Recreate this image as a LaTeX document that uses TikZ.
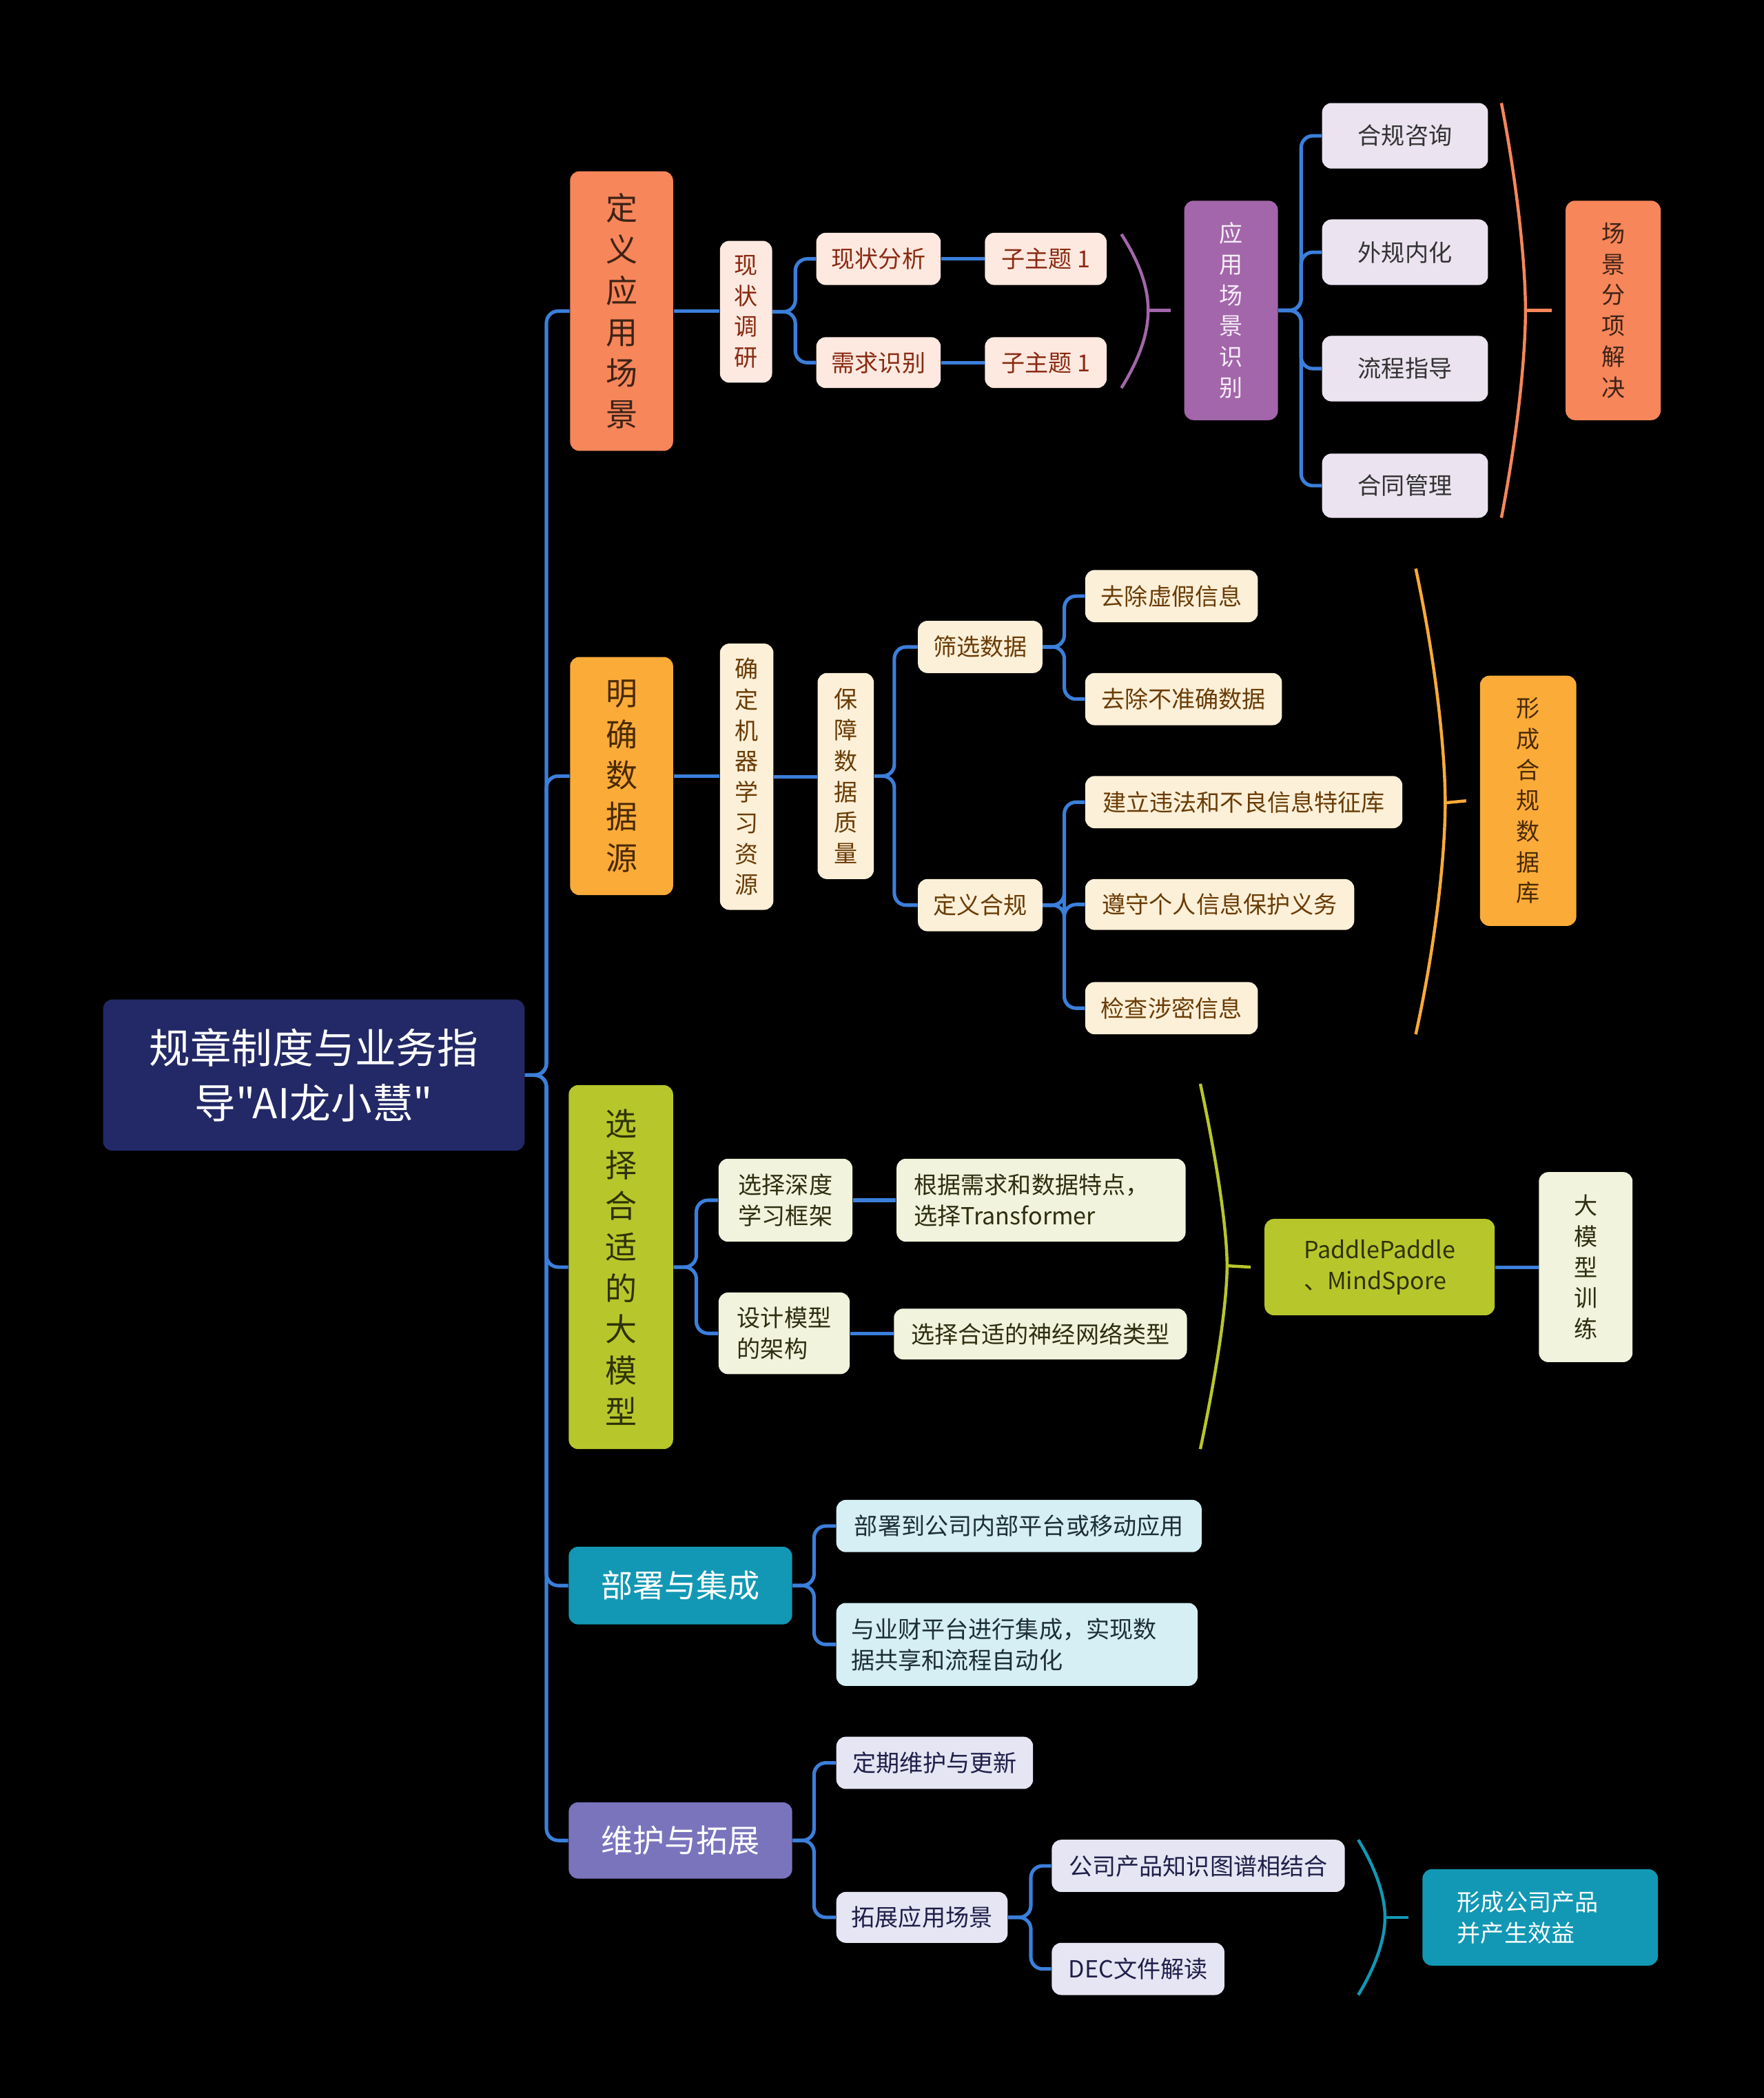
\documentclass[tikz,border=0pt]{standalone}
\usepackage{fontspec}
\setmainfont{Noto Sans CJK SC}[Ligatures=TeXOff]
\definecolor{cblue}{HTML}{3B7FDB}
\definecolor{rootc}{HTML}{232966}
\definecolor{orangec}{HTML}{F7865A}
\definecolor{orangetx}{HTML}{3D2316}
\definecolor{peach}{HTML}{FDE9DF}
\definecolor{peachtx}{HTML}{8A2A12}
\definecolor{purplec}{HTML}{A366AA}
\definecolor{purpletx}{HTML}{F5EDF7}
\definecolor{lavA}{HTML}{EBE3F0}
\definecolor{lavAtx}{HTML}{333333}
\definecolor{yellowc}{HTML}{FBAB38}
\definecolor{yellowtx}{HTML}{4A2A05}
\definecolor{cream}{HTML}{FDF0D8}
\definecolor{creamtx}{HTML}{6A3C06}
\definecolor{greenc}{HTML}{B7C62B}
\definecolor{greentx}{HTML}{2E3208}
\definecolor{lgreen}{HTML}{F1F3DC}
\definecolor{lgreentx}{HTML}{2E2E10}
\definecolor{tealc}{HTML}{1298B4}
\definecolor{cyanc}{HTML}{D5EFF4}
\definecolor{cyantx}{HTML}{1D2F36}
\definecolor{violetc}{HTML}{7A74BD}
\definecolor{lavB}{HTML}{E6E5F3}
\definecolor{lavBtx}{HTML}{1F1F4A}
\newcommand\fA{\fontsize{17.5}{23.3}\selectfont}
\newcommand\fB{\fontsize{13.5}{17.5}\selectfont}
\newcommand\fC{\fontsize{10}{13.1}\selectfont}
\newcommand\mybox[7]{\node[#2, minimum width={(#5-(#3))*0.02cm}, minimum height={(#6-(#4))*0.02cm}] (#1) at ({(#3+#5)/2},{(#4+#6)/2}) {#7};}
\tikzset{
  base/.style={rounded corners=4pt, inner sep=0pt, align=center},
  rootbox/.style={base, fill=rootc, text=white, font=\fA},
  lone/.style={base, font=\fB},
  ltwo/.style={base, font=\fC},
  conn/.style={draw=cblue, line width=1.5pt, rounded corners=5pt},
  brk/.style={line width=1.3pt},
}
\begin{document}
\begin{tikzpicture}[x=0.02cm,y=-0.02cm]
\fill[black] (0,0) rectangle (1318,1568);
\useasboundingbox (0,0) rectangle (1318,1568);

% root
\mybox{root}{rootbox}{77}{747}{392}{860}{规章制度与业务指\\导"AI龙小慧"}

% level 1
\mybox{n1}{lone, fill=orangec, text=orangetx}{426}{128}{503}{337}{定\\义\\应\\用\\场\\景}
\mybox{n2}{lone, fill=yellowc, text=yellowtx}{426}{491}{503}{669}{明\\确\\数\\据\\源}
\mybox{n3}{lone, fill=greenc, text=greentx}{425}{811}{503}{1083}{选\\择\\合\\适\\的\\大\\模\\型}
\mybox{n4}{lone, fill=tealc, text=white}{425}{1156}{592}{1214}{部署与集成}
\mybox{n5}{lone, fill=violetc, text=white}{425}{1347}{592}{1404}{维护与拓展}

\foreach \n in {n1,n2,n3,n4,n5}{\draw[conn] (root.east) -- ++(16,0) |- (\n.west);}

% branch 1
\mybox{s1}{ltwo, fill=peach, text=peachtx}{538}{180}{577}{286}{现\\状\\调\\研}
\mybox{a1}{ltwo, fill=peach, text=peachtx}{610}{174}{703}{213}{现状分析}
\mybox{a2}{ltwo, fill=peach, text=peachtx}{610}{252}{703}{290}{需求识别}
\mybox{b1}{ltwo, fill=peach, text=peachtx}{736}{174}{827}{213}{子主题 1}
\mybox{b2}{ltwo, fill=peach, text=peachtx}{736}{252}{827}{290}{子主题 1}
\mybox{rec}{ltwo, fill=purplec, text=purpletx}{885}{150}{955}{314}{应\\用\\场\\景\\识\\别}
\mybox{c1}{ltwo, fill=lavA, text=lavAtx}{988}{77}{1112}{126}{合规咨询}
\mybox{c2}{ltwo, fill=lavA, text=lavAtx}{988}{164}{1112}{213}{外规内化}
\mybox{c3}{ltwo, fill=lavA, text=lavAtx}{988}{251}{1112}{300}{流程指导}
\mybox{c4}{ltwo, fill=lavA, text=lavAtx}{988}{339}{1112}{387}{合同管理}
\mybox{res1}{ltwo, fill=orangec, text=orangetx}{1170}{150}{1241}{314}{场\\景\\分\\项\\解\\决}

\draw[conn] (n1.east) -- (n1.east -| s1.west);
\draw[conn] (s1.east) -- ++(17,0) |- (a1.west);
\draw[conn] (s1.east) -- ++(17,0) |- (a2.west);
\draw[conn] (a1) -- (b1);
\draw[conn] (a2) -- (b2);
\draw[brk, draw=purplec] (838,175) .. controls (854,200) and (858,218) .. (858,232) .. controls (858,246) and (854,264) .. (838,290);
\coordinate (tipP) at (858,232);
\draw[brk, draw=purplec] (tipP) -- ([xshift=-0.2cm]rec.west);
\foreach \c in {c1,c2,c3,c4}{\draw[conn] (rec.east) -- ++(17,0) |- (\c.west);}
\draw[brk, draw=orangec] (1122,77) .. controls (1136,150) and (1140,205) .. (1140,232) .. controls (1140,259) and (1136,314) .. (1122,387);
\coordinate (tipO) at (1140,232);
\draw[brk, draw=orangec] (tipO) -- ([xshift=-0.2cm]res1.west);

% branch 2
\mybox{s2}{ltwo, fill=cream, text=creamtx}{538}{481}{578}{680}{确\\定\\机\\器\\学\\习\\资\\源}
\mybox{q}{ltwo, fill=cream, text=creamtx}{611}{503}{653}{657}{保\\障\\数\\据\\质\\量}
\mybox{d1}{ltwo, fill=cream, text=creamtx}{686}{464}{779}{503}{筛选数据}
\mybox{d2}{ltwo, fill=cream, text=creamtx}{686}{657}{779}{696}{定义合规}
\mybox{e1}{ltwo, fill=cream, text=creamtx}{811}{426}{940}{465}{去除虚假信息}
\mybox{e2}{ltwo, fill=cream, text=creamtx}{811}{503}{958}{542}{去除不准确数据}
\mybox{f1}{ltwo, fill=cream, text=creamtx}{811}{580}{1048}{619}{建立违法和不良信息特征库}
\mybox{f2}{ltwo, fill=cream, text=creamtx}{811}{657}{1012}{695}{遵守个人信息保护义务}
\mybox{f3}{ltwo, fill=cream, text=creamtx}{811}{734}{940}{773}{检查涉密信息}
\mybox{db}{ltwo, fill=yellowc, text=yellowtx}{1106}{505}{1178}{692}{形\\成\\合\\规\\数\\据\\库}

\draw[conn] (n2.east) -- (n2.east -| s2.west);
\draw[conn] (s2.east) -- (s2.east -| q.west);
\draw[conn] (q.east) -- ++(15,0) |- (d1.west);
\draw[conn] (q.east) -- ++(15,0) |- (d2.west);
\draw[conn] (d1.east) -- ++(16,0) |- (e1.west);
\draw[conn] (d1.east) -- ++(16,0) |- (e2.west);
\draw[conn] (d2.east) -- ++(16,0) |- (f1.west);
\draw[conn] (d2.east) -- ++(16,0) |- (f2.west);
\draw[conn] (d2.east) -- ++(16,0) |- (f3.west);
\draw[brk, draw=yellowc] (1058,425) .. controls (1074,500) and (1080,565) .. (1080,600) .. controls (1080,635) and (1074,700) .. (1058,773);
\coordinate (tipY) at (1080,600);
\draw[brk, draw=yellowc] (tipY) -- ([xshift=-0.2cm]db.west);

% branch 3
\mybox{g1}{ltwo, fill=lgreen, text=lgreentx}{537}{866}{637}{928}{选择深度\\学习框架}
\mybox{g2}{ltwo, fill=lgreen, text=lgreentx, align=left}{537}{966}{635}{1027}{设计模型\\的架构}
\mybox{h1}{ltwo, fill=lgreen, text=lgreentx, text width=3.8cm, align=left}{670}{866}{886}{928}{根据需求和数据特点，\\选择Transformer}
\mybox{h2}{ltwo, fill=lgreen, text=lgreentx}{668}{978}{887}{1016}{选择合适的神经网络类型}
\mybox{pp}{ltwo, fill=greenc, text=greentx, align=left}{945}{911}{1117}{983}{PaddlePaddle\\、MindSpore}
\mybox{tr}{ltwo, fill=lgreen, text=lgreentx}{1150}{876}{1220}{1018}{大\\模\\型\\训\\练}

\draw[conn] (n3.east) -- ++(17,0) |- (g1.west);
\draw[conn] (n3.east) -- ++(17,0) |- (g2.west);
\draw[conn] (g1) -- (h1);
\draw[conn] (g2.east) -- (g2.east -| h2.west);
\draw[brk, draw=greenc] (897,810) .. controls (912,880) and (917,925) .. (917,946) .. controls (917,967) and (912,1012) .. (897,1083);
\coordinate (tipG) at (917,946);
\draw[brk, draw=greenc] (tipG) -- ([xshift=-0.2cm]pp.west);
\draw[conn] (pp) -- (tr);

% branch 4
\mybox{k1}{ltwo, fill=cyanc, text=cyantx}{625}{1121}{898}{1160}{部署到公司内部平台或移动应用}
\mybox{k2}{ltwo, fill=cyanc, text=cyantx, text width=4.96cm, align=left}{625}{1198}{895}{1260}{与业财平台进行集成，实现数\\据共享和流程自动化}
\draw[conn] (n4.east) -- ++(16,0) |- (k1.west);
\draw[conn] (n4.east) -- ++(16,0) |- (k2.west);

% branch 5
\mybox{m1}{ltwo, fill=lavB, text=lavBtx}{625}{1298}{772}{1337}{定期维护与更新}
\mybox{m2}{ltwo, fill=lavB, text=lavBtx}{625}{1414}{753}{1452}{拓展应用场景}
\mybox{o1}{ltwo, fill=lavB, text=lavBtx}{786}{1375}{1005}{1414}{公司产品知识图谱相结合}
\mybox{o2}{ltwo, fill=lavB, text=lavBtx}{786}{1452}{915}{1491}{DEC文件解读}
\mybox{fin}{ltwo, fill=tealc, text=white, text width=2.48cm, align=left}{1063}{1397}{1239}{1469}{形成公司产品\\并产生效益}
\draw[conn] (n5.east) -- ++(16,0) |- (m1.west);
\draw[conn] (n5.east) -- ++(16,0) |- (m2.west);
\draw[conn] (m2.east) -- ++(17,0) |- (o1.west);
\draw[conn] (m2.east) -- ++(17,0) |- (o2.west);
\draw[brk, draw=tealc] (1015,1375) .. controls (1029,1398) and (1035,1418) .. (1035,1433) .. controls (1035,1448) and (1029,1468) .. (1015,1491);
\coordinate (tipT) at (1035,1433);
\draw[brk, draw=tealc] (tipT) -- ([xshift=-0.2cm]fin.west);
\end{tikzpicture}
\end{document}
